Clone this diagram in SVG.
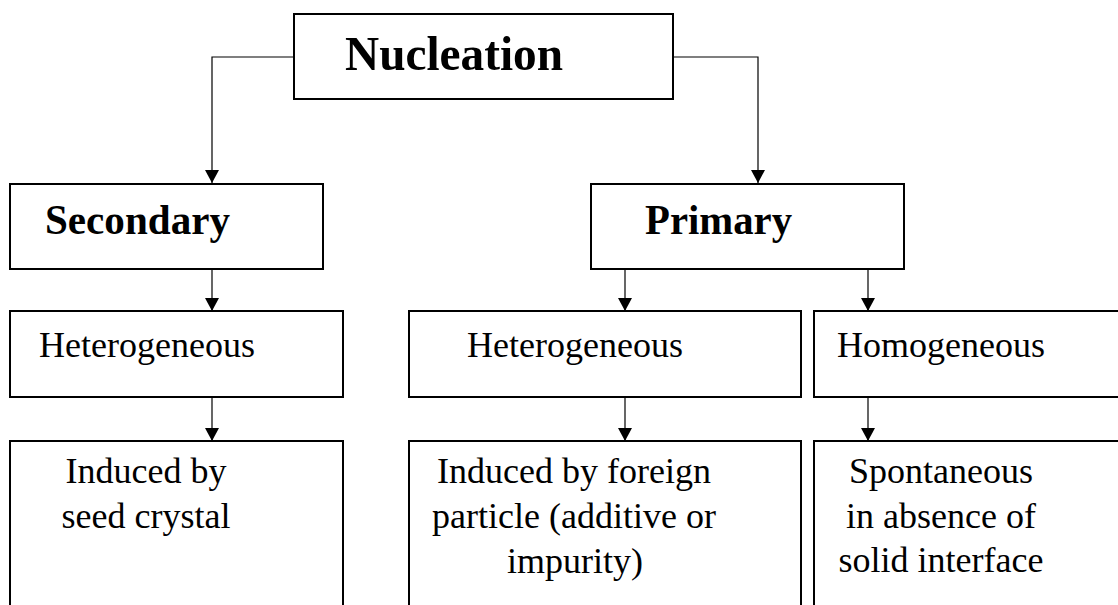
<svg xmlns="http://www.w3.org/2000/svg" width="1118" height="605" viewBox="0 0 1118 605">
<style>
.box{fill:#fff;stroke:#000;stroke-width:2}
.t{font-family:"Liberation Serif","Times New Roman",serif;fill:#000}
.b{font-weight:bold}
.r{font-size:36px}
.conn{fill:none;stroke:#000;stroke-width:1.2}
</style>
<defs>
<marker id="ah" markerUnits="userSpaceOnUse" markerWidth="16" markerHeight="16" viewBox="0 0 16 16" refX="8" refY="14" orient="auto-start-reverse">
<path d="M1,1 L15,1 L8,14 Z" fill="#000" transform="rotate(-90 8 8)"/>
</marker>
<marker id="arr" markerUnits="userSpaceOnUse" markerWidth="16" markerHeight="16" viewBox="0 0 16 16" refX="14" refY="8" orient="auto">
<path d="M1,1 L14,8 L1,15 Z" fill="#000"/>
</marker>
</defs>
<rect width="1118" height="605" fill="#fff"/>
<g id="connectors">
<path class="conn" d="M294,57 H212 V183" marker-end="url(#arr)"/>
<path class="conn" d="M673,57 H758 V183" marker-end="url(#arr)"/>
<path class="conn" d="M212,269 V311" marker-end="url(#arr)"/>
<path class="conn" d="M625,269 V311" marker-end="url(#arr)"/>
<path class="conn" d="M868,269 V311" marker-end="url(#arr)"/>
<path class="conn" d="M212,397 V441" marker-end="url(#arr)"/>
<path class="conn" d="M625,397 V441" marker-end="url(#arr)"/>
<path class="conn" d="M868,397 V441" marker-end="url(#arr)"/>
</g>
<g id="nucleation">
<rect class="box" x="294" y="14" width="379" height="85"/>
<text class="t b" x="345" y="70" font-size="49" textLength="218" lengthAdjust="spacingAndGlyphs">Nucleation</text>
</g>
<g id="secondary">
<rect class="box" x="10" y="184" width="313" height="85"/>
<text class="t b" x="45" y="234" font-size="42" textLength="185" lengthAdjust="spacingAndGlyphs">Secondary</text>
</g>
<g id="primary">
<rect class="box" x="591" y="184" width="313" height="85"/>
<text class="t b" x="645" y="234" font-size="42" textLength="147" lengthAdjust="spacingAndGlyphs">Primary</text>
</g>
<g id="sec-hetero">
<rect class="box" x="10" y="311" width="333" height="86"/>
<text class="t r" x="39" y="357">Heterogeneous</text>
</g>
<g id="pri-hetero">
<rect class="box" x="409" y="311" width="392" height="86"/>
<text class="t r" x="467" y="357">Heterogeneous</text>
</g>
<g id="pri-homo">
<rect class="box" x="814" y="311" width="320" height="86"/>
<text class="t r" x="837" y="357">Homogeneous</text>
</g>
<g id="seed">
<rect class="box" x="10" y="441" width="333" height="180"/>
<text class="t r" x="146" y="483" text-anchor="middle">Induced by</text>
<text class="t r" x="146" y="528" text-anchor="middle">seed crystal</text>
</g>
<g id="foreign">
<rect class="box" x="409" y="441" width="392" height="180"/>
<text class="t r" x="574" y="483" text-anchor="middle">Induced by foreign</text>
<text class="t r" x="574" y="528" text-anchor="middle">particle (additive or</text>
<text class="t r" x="575" y="573" text-anchor="middle">impurity)</text>
</g>
<g id="spontaneous">
<rect class="box" x="814" y="441" width="320" height="180"/>
<text class="t r" x="941" y="483" text-anchor="middle">Spontaneous</text>
<text class="t r" x="941" y="528" text-anchor="middle">in absence of</text>
<text class="t r" x="941" y="572" text-anchor="middle">solid interface</text>
</g>
</svg>
